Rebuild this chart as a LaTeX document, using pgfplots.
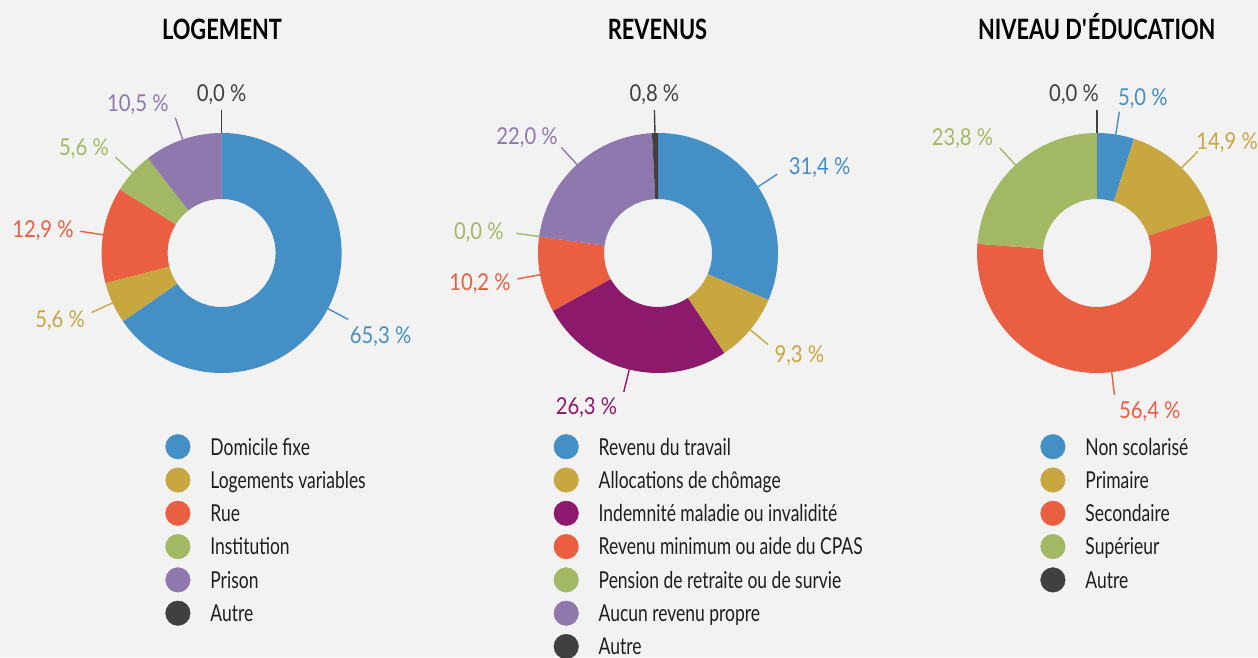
\documentclass[border=0pt]{standalone}
\usepackage{fontspec}
\setmainfont[FakeStretch=0.75]{Lato}
\newfontfamily\lblfont[FakeStretch=0.87]{Lato}
\newfontfamily\ttlfont[FakeStretch=0.78]{Lato}
\usepackage{pgfplots}
\usepackage{pgfplotstable}
\pgfplotsset{compat=1.18}

\definecolor{bg}{HTML}{F2F2F2}
\definecolor{cBlue}{HTML}{458FC7}
\definecolor{cGold}{HTML}{C8A640}
\definecolor{cRed}{HTML}{EA5E42}
\definecolor{cGreen}{HTML}{A3B864}
\definecolor{cPurple}{HTML}{8F78AE}
\definecolor{cMaroon}{HTML}{8C196C}
\definecolor{cDark}{HTML}{404040}
\definecolor{txt}{HTML}{1E1E1E}

\pgfkeys{/pgf/number format/.cd,fixed,fixed zerofill,precision=1,use comma,assume math mode=true}

% value ; colour ; label shift x ; label shift y (px)
\pgfplotstableread[col sep=semicolon]{
value;col;dx;dy
65.3;cBlue;-5;-9
5.6;cGold;0;0
12.9;cRed;0;0
5.6;cGreen;0;0
10.5;cPurple;0;0
0.0;cDark;0;0
}\tabLog

\pgfplotstableread[col sep=semicolon]{
value;col;dx;dy
31.4;cBlue;5;0
9.3;cGold;0;0
26.3;cMaroon;0;0
10.2;cRed;0;0
0.0;cGreen;-6;0
22.0;cPurple;3;0
0.8;cDark;0;0
}\tabRev

\pgfplotstableread[col sep=semicolon]{
value;col;dx;dy
5.0;cBlue;-8;0
14.9;cGold;-8;0
56.4;cRed;-2;0
23.8;cGreen;0;0
0.0;cDark;-23;0
}\tabEdu

\newcommand\prepdonut[3]{%
  \gdef\dtot{0}%
  \foreach \i in {0,...,#3}{%
    \pgfplotstablegetelem{\i}{value}\of{#2}%
    \pgfmathsetmacro\dtmp{\dtot+\pgfplotsretval}\global\let\dtot\dtmp}%
  \gdef\dcum{0}%
  \foreach \i in {0,...,#3}{%
    \pgfplotstablegetelem{\i}{value}\of{#2}\let\dv\pgfplotsretval
    \pgfmathsetmacro\dA{90-360*(\dcum/\dtot)}%
    \pgfmathsetmacro\dtmp{\dcum+\dv}\global\let\dcum\dtmp
    \pgfmathsetmacro\dB{90-360*(\dcum/\dtot)}%
    \pgfmathsetmacro\dM{(\dA+\dB)/2}%
    \pgfmathsetmacro\dS{sin(\dM)}%
    \pgfmathsetmacro\dCo{cos(\dM)}%
    \pgfplotstablegetelem{\i}{col}\of{#2}\let\dcol\pgfplotsretval
    \pgfplotstablegetelem{\i}{dx}\of{#2}\let\ddx\pgfplotsretval
    \pgfplotstablegetelem{\i}{dy}\of{#2}\let\ddy\pgfplotsretval
    \ifdim\dCo pt>0.05pt
      \def\danc{base west}\pgfmathsetmacro\dlx{6+\ddx}\pgfmathsetmacro\dly{15*\dS-8.4+\ddy}%
    \else\ifdim\dCo pt<-0.05pt
      \def\danc{base east}\pgfmathsetmacro\dlx{-6+\ddx}\pgfmathsetmacro\dly{15*\dS-8.4+\ddy}%
    \else
      \def\danc{base}\pgfmathsetmacro\dlx{\ddx}\pgfmathsetmacro\dly{8.4+\ddy}%
    \fi\fi
    \expandafter\xdef\csname #1a\i\endcsname{\dA}%
    \expandafter\xdef\csname #1b\i\endcsname{\dB}%
    \expandafter\xdef\csname #1m\i\endcsname{\dM}%
    \expandafter\xdef\csname #1v\i\endcsname{\dv}%
    \expandafter\xdef\csname #1col\i\endcsname{\dcol}%
    \expandafter\xdef\csname #1anc\i\endcsname{\danc}%
    \expandafter\xdef\csname #1lx\i\endcsname{\dlx}%
    \expandafter\xdef\csname #1ly\i\endcsname{\dly}%
  }%
}

\prepdonut{LOG}{\tabLog}{5}
\prepdonut{REV}{\tabRev}{6}
\prepdonut{EDU}{\tabEdu}{4}

\tikzset{lbl/.style={font=\lblfont\fontsize{23.3}{28}\selectfont, inner sep=0pt}}

\newcommand\drawdonut[4]{%
  \pgfplotsinvokeforeach{0,...,#4}{%
    \edef\dtmpcmd{%
      \noexpand\fill[\csname #1col##1\endcsname]
        (axis cs:{#2+120*cos(\csname #1a##1\endcsname)},{#3+120*sin(\csname #1a##1\endcsname)})
        arc[start angle=\csname #1a##1\endcsname, end angle=\csname #1b##1\endcsname, radius=120pt]
        -- (axis cs:{#2+54*cos(\csname #1b##1\endcsname)},{#3+54*sin(\csname #1b##1\endcsname)})
        arc[start angle=\csname #1b##1\endcsname, end angle=\csname #1a##1\endcsname, radius=54pt]
        -- cycle;
      \noexpand\draw[\csname #1col##1\endcsname, line width=1.4pt]
        (axis cs:{#2+120*cos(\csname #1m##1\endcsname)},{#3+120*sin(\csname #1m##1\endcsname)})
        -- (axis cs:{#2+143*cos(\csname #1m##1\endcsname)},{#3+143*sin(\csname #1m##1\endcsname)})
        node[lbl, anchor=\csname #1anc##1\endcsname, xshift=\csname #1lx##1\endcsname pt, yshift=\csname #1ly##1\endcsname pt, text=\csname #1col##1\endcsname]
        {\noexpand\pgfmathprintnumber{\csname #1v##1\endcsname} \noexpand\%};
    }\dtmpcmd
  }%
}

\pgfplotsset{donut/.style={
  x=1pt, y=1pt, xmin=0, xmax=1258, ymin=0, ymax=657,
  hide axis, clip=false, anchor=south west, at={(0pt,0pt)},
  legend cell align=left,
  legend image code/.code={\fill[##1] (0pt,0pt) circle[radius=12.3pt];},
  legend style={draw=none, fill=none, inner sep=0pt, outer sep=0pt,
    column sep=20pt, row sep=0pt, font=\fontsize{23.3}{28}\selectfont, text=txt,
    nodes={inner sep=0pt, text height=25pt, text depth=8.3pt}},
}}
\tikzset{ttl/.style={font=\ttlfont\fontsize{28}{32}\selectfont\bfseries, anchor=base, text=black}}

\begin{document}
\begin{tikzpicture}
\useasboundingbox (0pt,0pt) rectangle (1258pt,657pt);
\fill[bg] (0pt,0pt) rectangle (1258pt,657pt);

\begin{axis}[donut, legend style={at={(axis cs:165.4,226.95)}, anchor=north west}]
  \drawdonut{LOG}{221.6}{404}{5}
  \node[ttl] at (axis cs:222,617.7) {LOGEMENT};
  \addlegendimage{cBlue}\addlegendentry{Domicile fixe}
  \addlegendimage{cGold}\addlegendentry{Logements variables}
  \addlegendimage{cRed}\addlegendentry{Rue}
  \addlegendimage{cGreen}\addlegendentry{Institution}
  \addlegendimage{cPurple}\addlegendentry{Prison}
  \addlegendimage{cDark}\addlegendentry{Autre}
\end{axis}

\begin{axis}[donut, legend style={at={(axis cs:553.7,226.95)}, anchor=north west}]
  \drawdonut{REV}{658}{404}{6}
  \node[ttl] at (axis cs:657.5,617.7) {REVENUS};
  \addlegendimage{cBlue}\addlegendentry{Revenu du travail}
  \addlegendimage{cGold}\addlegendentry{Allocations de chômage}
  \addlegendimage{cMaroon}\addlegendentry{Indemnité maladie ou invalidité}
  \addlegendimage{cRed}\addlegendentry{Revenu minimum ou aide du CPAS}
  \addlegendimage{cGreen}\addlegendentry{Pension de retraite ou de survie}
  \addlegendimage{cPurple}\addlegendentry{Aucun revenu propre}
  \addlegendimage{cDark}\addlegendentry{Autre}
\end{axis}

\begin{axis}[donut, legend style={at={(axis cs:1040.4,226.95)}, anchor=north west}]
  \drawdonut{EDU}{1097}{404}{4}
  \node[ttl] at (axis cs:1096.7,617.7) {NIVEAU D\textquotesingle ÉDUCATION};
  \addlegendimage{cBlue}\addlegendentry{Non scolarisé}
  \addlegendimage{cGold}\addlegendentry{Primaire}
  \addlegendimage{cRed}\addlegendentry{Secondaire}
  \addlegendimage{cGreen}\addlegendentry{Supérieur}
  \addlegendimage{cDark}\addlegendentry{Autre}
\end{axis}
\end{tikzpicture}
\end{document}
